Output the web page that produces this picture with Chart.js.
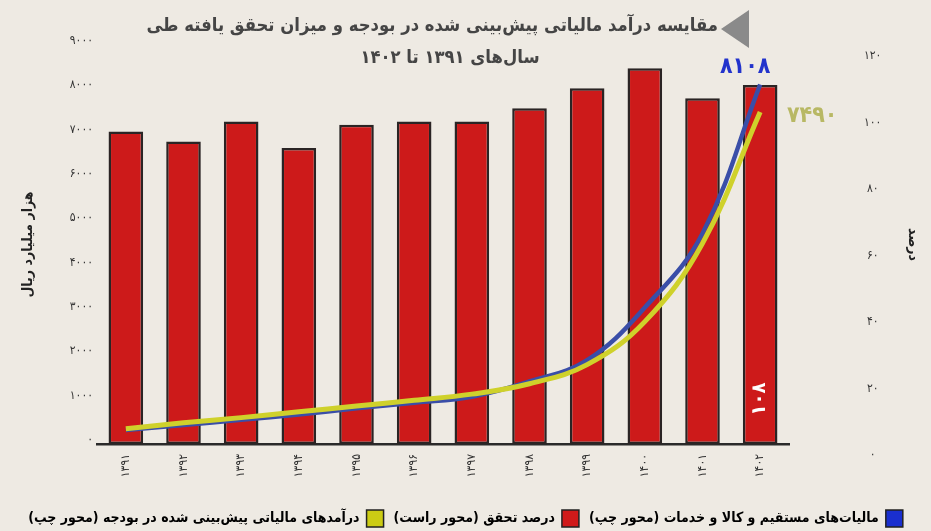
<!DOCTYPE html>
<html lang="fa">
<head>
<meta charset="utf-8">
<script src="https://cdn.jsdelivr.net/npm/chart.js@4"></script>
<style>
  html, body { margin: 0; padding: 0; background: #eeeae3; }
  #wrap { width: 931px; height: 531px; position: relative; }
</style>
</head>
<body>
<div id="wrap"><canvas id="chartCanvas"></canvas></div>
<script>
// --- data ---
const years = ["۱۳۹۱", "۱۳۹۲", "۱۳۹۳", "۱۳۹۴", "۱۳۹۵", "۱۳۹۶", "۱۳۹۷", "۱۳۹۸", "۱۳۹۹", "۱۴۰۰", "۱۴۰۱", "۱۴۰۲"];
const realizedPct = [94, 91, 97, 89, 96, 97, 97, 101, 107, 113, 104, 108];          // bars, right axis
const actualRevenue = [315, 430, 545, 665, 805, 930, 1065, 1410, 1890, 3080, 4750, 8108]; // blue, left axis
const budgetRevenue = [345, 480, 595, 725, 855, 985, 1125, 1360, 1790, 2760, 4525, 7490]; // yellow, left axis

const titleLine1 = "مقایسه درآمد مالیاتی پیش\u200cبینی شده در بودجه و میزان تحقق یافته طی";
const titleLine2 = "سال\u200cهای ۱۳۹۱ تا ۱۴۰۲";
const seriesNames = [
  "مالیات\u200cهای مستقیم و کالا و خدمات (محور چپ)",
  "درصد تحقق (محور راست)",
  "درآمدهای مالیاتی پیش\u200cبینی شده در بودجه (محور چپ)"
];
const legendColors = ["#1a2fcf", "#d01a1a", "#cccc14"];

const FONT = "'DejaVu Sans Condensed', 'DejaVu Sans', sans-serif";

// latin digits -> persian digits
function fa(n) {
  return String(n).replace(/\d/g, d => "۰۱۲۳۴۵۶۷۸۹"[d]);
}

// title + value labels drawn on top
const overlayPlugin = {
  id: "overlay",
  afterDatasetsDraw(chart) {
    const { ctx, scales: { x, y, y1 } } = chart;
    const last = years.length - 1;
    const px = x.getPixelForValue(last);
    ctx.save();
    ctx.textAlign = "center";
    ctx.textBaseline = "middle";
    ctx.font = "bold 23px " + FONT;
    ctx.fillStyle = "#2233cc";
    ctx.fillText(fa(actualRevenue[last]), px - 15, y.getPixelForValue(actualRevenue[last]) - 18);
    ctx.fillStyle = "#b8b864";
    ctx.fillText(fa(budgetRevenue[last]), px + 52, y.getPixelForValue(budgetRevenue[last]) + 4);

    ctx.translate(px, y1.getPixelForValue(0) - 45);
    ctx.rotate(-Math.PI / 2);
    ctx.font = "bold 20px " + FONT;
    ctx.fillStyle = "#ffffff";
    ctx.fillText(fa(realizedPct[last]), 0, 0);
    ctx.restore();
  },
  afterDraw(chart) {
    const { ctx } = chart;
    ctx.save();
    ctx.direction = "rtl";
    ctx.textBaseline = "middle";
    ctx.fillStyle = "#454545";
    ctx.font = "bold 20px " + FONT;
    let w = ctx.measureText(titleLine1).width;
    const size = Math.min(22, 20 * 573 / w);
    ctx.font = "bold " + size.toFixed(1) + "px " + FONT;
    ctx.textAlign = "right";
    ctx.fillText(titleLine1, 718, 26);
    ctx.textAlign = "center";
    ctx.fillText(titleLine2, 450, 58);

    ctx.fillStyle = "#8a8a8a";
    ctx.beginPath();
    ctx.moveTo(721, 29);
    ctx.lineTo(749, 10);
    ctx.lineTo(749, 48);
    ctx.closePath();
    ctx.fill();
    ctx.restore();
  }
};

const canvas = document.getElementById("chartCanvas");

new Chart(canvas, {
  type: "bar",
  data: {
    labels: years,
    datasets: [
      {
        type: "line",
        label: seriesNames[0],
        data: actualRevenue,
        yAxisID: "y",
        borderColor: "#3a4ea8",
        backgroundColor: "#3a4ea8",
        borderWidth: 4.5,
        pointRadius: 0,
        tension: 0.4,
        order: 1
      },
      {
        type: "bar",
        label: seriesNames[1],
        data: realizedPct,
        yAxisID: "y1",
        backgroundColor: "#cd1a1a",
        borderColor: "#2a2424",
        borderWidth: 2.5,
        borderSkipped: false,
        categoryPercentage: 1,
        barPercentage: 0.6,
        order: 2
      },
      {
        type: "line",
        label: seriesNames[2],
        data: budgetRevenue,
        yAxisID: "y",
        borderColor: "#cfd12b",
        backgroundColor: "#cfd12b",
        borderWidth: 5,
        pointRadius: 0,
        tension: 0.4,
        order: 0
      }
    ]
  },
  options: {
    responsive: true,
    maintainAspectRatio: false,
    animation: false,
    layout: { padding: { top: 45, bottom: -6, left: 0, right: 0 } },
    plugins: {
      title: { display: false },
      tooltip: { enabled: false },
      legend: {
        position: "bottom",
        rtl: true,
        textDirection: "rtl",
        labels: {
          font: { family: FONT, size: 14, weight: "bold" },
          color: "#222",
          boxWidth: 17,
          boxHeight: 17,
          padding: 10,
          sort: (a, b) => a.datasetIndex - b.datasetIndex,
          generateLabels(chart) {
            return chart.data.datasets.map((ds, i) => ({
              text: ds.label,
              fillStyle: legendColors[i],
              strokeStyle: "#222",
              lineWidth: 1.5,
              hidden: false,
              datasetIndex: i
            }));
          }
        }
      }
    },
    scales: {
      x: {
        grid: { display: false, drawTicks: false },
        border: { display: true, color: "#2a2a2a", width: 2.5 },
        ticks: {
          minRotation: 90,
          maxRotation: 90,
          padding: 10,
          color: "#333",
          font: { family: FONT, size: 12 }
        },
        afterFit(scale) { scale.height = 56; }
      },
      y: {
        position: "left",
        min: 0,
        max: 9000,
        grid: { display: false, drawTicks: false },
        border: { display: false },
        ticks: {
          stepSize: 1000,
          padding: 4,
          labelOffset: -4,
          color: "#333",
          font: { family: FONT, size: 12 },
          callback: v => fa(v)
        },
        title: {
          display: true,
          text: "هزار میلیارد ریال",
          color: "#222",
          font: { family: FONT, size: 14, weight: "bold" },
          padding: { top: 20, bottom: 0 }
        },
        afterFit(scale) {
          scale.width = 97;
          scale.paddingTop = 0;
          scale.paddingBottom = 0;
        }
      },
      y1: {
        position: "right",
        min: 0,
        max: 120,
        grid: { display: false, drawTicks: false },
        border: { display: false },
        ticks: {
          stepSize: 20,
          padding: 75,
          crossAlign: "center",
          labelOffset: 11,
          color: "#333",
          font: { family: FONT, size: 12 },
          callback: v => fa(v)
        },
        title: {
          display: true,
          text: "درصد",
          color: "#222",
          font: { family: FONT, size: 14, weight: "bold" },
          padding: { top: 10, bottom: 0 }
        },
        afterFit(scale) {
          scale.width = 142;
          scale.paddingTop = 0;
          scale.paddingBottom = 0;
        }
      }
    }
  },
  plugins: [overlayPlugin]
});
</script>
</body>
</html>
